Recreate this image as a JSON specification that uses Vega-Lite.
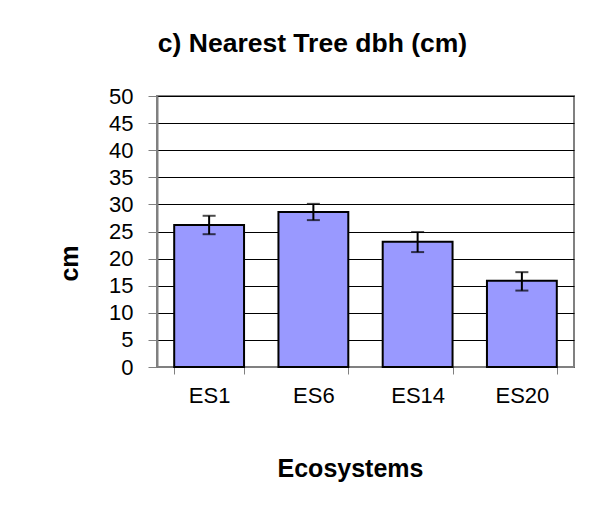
{
  "$schema": "https://vega.github.io/schema/vega-lite/v6.json",
  "autosize": {"type": "none"},
  "width": 417,
  "height": 271,
  "padding": {"left": 157, "top": 96, "right": 26, "bottom": 138},
  "background": "white",
  "config": {
    "font": "Liberation Sans",
    "view": {"stroke": "#808080", "strokeWidth": 2}
  },
  "title": {
    "text": "c) Nearest Tree dbh (cm)",
    "fontSize": 26.5,
    "fontWeight": "bold",
    "color": "black",
    "anchor": "middle",
    "dx": -53,
    "baseline": "alphabetic",
    "offset": 7
  },
  "data": {
    "values": [
      {"eco": "ES1", "mean": 26.2, "lo": 24.5, "hi": 27.9},
      {"eco": "ES6", "mean": 28.6, "lo": 27.1, "hi": 30.1},
      {"eco": "ES14", "mean": 23.1, "lo": 21.2, "hi": 24.9},
      {"eco": "ES20", "mean": 15.9, "lo": 14.1, "hi": 17.5}
    ]
  },
  "encoding": {
    "x": {
      "field": "eco",
      "type": "nominal",
      "sort": null,
      "scale": {"paddingInner": 0.33, "paddingOuter": 0.165},
      "axis": {
        "title": "Ecosystems",
        "titleFontSize": 25,
        "titleFontWeight": "bold",
        "titleColor": "black",
        "titleX": 193,
        "titleY": 109,
        "titleBaseline": "alphabetic",
        "labelAngle": 0,
        "labelFontSize": 22,
        "labelColor": "black",
        "labelPadding": 11,
        "labelOverlap": false,
        "tickBand": "extent",
        "tickSize": 7,
        "tickColor": "#808080",
        "domainColor": "#808080",
        "domainWidth": 1,
        "grid": false
      }
    }
  },
  "layer": [
    {
      "mark": {"type": "bar", "fill": "#9999FF", "stroke": "black", "strokeWidth": 2},
      "encoding": {
        "y": {
          "field": "mean",
          "type": "quantitative",
          "scale": {"domain": [0, 50], "nice": false},
          "axis": {
            "title": "cm",
            "titleFontSize": 25,
            "titleFontWeight": "bold",
            "titleColor": "black",
            "titleAngle": -90,
            "titleAlign": "center",
            "titleBaseline": "alphabetic",
            "titleX": -80,
            "titleY": 167,
            "values": [0, 5, 10, 15, 20, 25, 30, 35, 40, 45, 50],
            "tickCount": 11,
            "labelFontSize": 22,
            "labelColor": "black",
            "labelPadding": 15,
            "labelOverlap": false,
            "tickSize": 9,
            "tickColor": "#808080",
            "domainColor": "#808080",
            "domainWidth": 2,
            "grid": true,
            "gridColor": "black",
            "gridWidth": 1
          }
        }
      }
    },
    {
      "mark": {"type": "rule", "color": "black", "strokeWidth": 2},
      "encoding": {
        "y": {"field": "lo", "type": "quantitative"},
        "y2": {"field": "hi"}
      }
    },
    {
      "mark": {"type": "tick", "color": "black", "size": 13, "thickness": 2},
      "encoding": {"y": {"field": "lo", "type": "quantitative"}}
    },
    {
      "mark": {"type": "tick", "color": "black", "size": 13, "thickness": 2},
      "encoding": {"y": {"field": "hi", "type": "quantitative"}}
    }
  ]
}
